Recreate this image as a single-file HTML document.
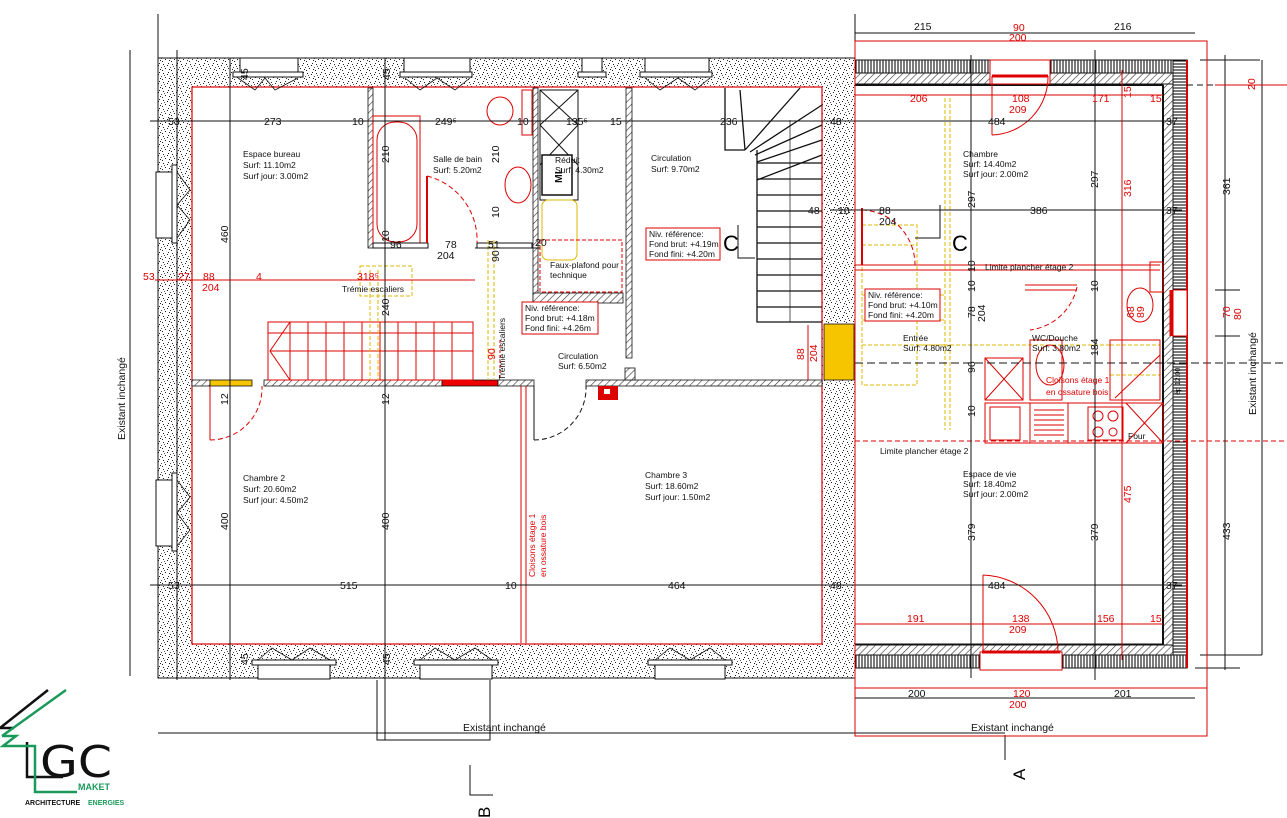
<!DOCTYPE html>
<html><head><meta charset="utf-8"><style>
html,body{margin:0;padding:0;background:#fff;}
svg{display:block;font-family:"Liberation Sans",sans-serif;}
.t{font-size:8.5px;fill:#111}
.d{font-size:10.5px;fill:#111}
.r{font-size:10.5px;fill:#d00}
.rs{font-size:8.5px;fill:#d00}
</style></head><body>
<svg width="1287" height="818" viewBox="0 0 1287 818" xmlns="http://www.w3.org/2000/svg">
<defs>
<pattern id="st" width="9" height="9" patternUnits="userSpaceOnUse">
<rect width="9" height="9" fill="#fff"/>
<rect x="1" y="1" width="1" height="1" fill="#222"/><rect x="5" y="2" width="1" height="1" fill="#222"/>
<rect x="3" y="5" width="1" height="1" fill="#222"/><rect x="7" y="6" width="1" height="1" fill="#222"/>
<rect x="0" y="7" width="1" height="1" fill="#222"/><rect x="6" y="0" width="1" height="1" fill="#222"/>
<rect x="2" y="3" width="1" height="1" fill="#555"/><rect x="8" y="4" width="1" height="1" fill="#555"/>
</pattern>
<pattern id="hb" width="5" height="5" patternUnits="userSpaceOnUse" patternTransform="rotate(45)">
<rect width="5" height="5" fill="#fff"/><line x1="0" y1="0" x2="0" y2="5" stroke="#333" stroke-width="1.2"/></pattern>
<pattern id="vl" width="3" height="3" patternUnits="userSpaceOnUse">
<rect width="3" height="3" fill="#fff"/><line x1="1" y1="0" x2="1" y2="3" stroke="#111" stroke-width="1.1"/></pattern>
<pattern id="hl" width="3" height="3" patternUnits="userSpaceOnUse">
<rect width="3" height="3" fill="#fff"/><line x1="0" y1="1" x2="3" y2="1" stroke="#111" stroke-width="1.1"/></pattern>
</defs>

<path d="M158 58 H855 V678 H158 Z M192 87 V644 H822 V87 Z" fill="url(#st)" fill-rule="evenodd" stroke="#111" stroke-width="1"/>
<rect x="192" y="87" width="630" height="557" fill="none" stroke="#d00" stroke-width="1.2"/>

<g stroke="#111" fill="#fff" stroke-width="1">
<rect x="240" y="58" width="58" height="14"/><rect x="233" y="72" width="70" height="5"/>
<rect x="404" y="58" width="66" height="14"/><rect x="400" y="72" width="72" height="5"/>
<rect x="582" y="58" width="20" height="14"/><rect x="578" y="72" width="28" height="5"/>
<rect x="645" y="58" width="64" height="14"/><rect x="640" y="72" width="72" height="5"/>
<rect x="258" y="665" width="72" height="14"/><rect x="252" y="660" width="84" height="5"/>
<rect x="420" y="665" width="72" height="14"/><rect x="414" y="660" width="84" height="5"/>
<rect x="655" y="665" width="70" height="14"/><rect x="648" y="660" width="84" height="5"/>
<rect x="156" y="172" width="16" height="66"/><rect x="172" y="165" width="5" height="78"/>
<rect x="156" y="480" width="16" height="66"/><rect x="172" y="473" width="5" height="78"/>
</g>
<g stroke="#111" fill="none" stroke-width="0.8">
<path d="M238 78 L255 90 L265 78 L275 90 L298 78"/><path d="M405 78 L420 90 L437 78 L455 90 L470 78"/><path d="M645 78 L660 90 L678 78 L695 90 L710 78"/>
<path d="M258 660 L272 648 L292 660 L310 648 L330 660"/><path d="M420 660 L435 648 L455 660 L475 648 L492 660"/><path d="M655 660 L670 648 L690 660 L710 648 L725 660"/>
<path d="M177 172 L190 190 L177 205 L190 220 L177 238"/><path d="M177 480 L190 497 L177 513 L190 530 L177 546"/>
</g>

<rect x="855" y="60" width="332" height="13" fill="url(#vl)" stroke="#111"/>
<rect x="855" y="73" width="318" height="11" fill="url(#hb)" stroke="#111"/>
<rect x="1173" y="60" width="14" height="608" fill="url(#hl)" stroke="#111"/>
<rect x="1163" y="84" width="10" height="561" fill="url(#hb)" stroke="#111"/>
<rect x="855" y="655" width="332" height="13" fill="url(#vl)" stroke="#111"/>
<rect x="855" y="645" width="318" height="10" fill="url(#hb)" stroke="#111"/>
<line x1="855" y1="85" x2="1163" y2="85" stroke="#111" stroke-width="2"/>
<line x1="1163" y1="85" x2="1163" y2="645" stroke="#111" stroke-width="2"/>
<line x1="855" y1="644" x2="1163" y2="644" stroke="#111" stroke-width="1"/>
<line x1="1187" y1="60" x2="1187" y2="668" stroke="#d00" stroke-width="2"/>
<rect x="990" y="60" width="60" height="24" fill="#fff" stroke="#d00"/>
<line x1="992" y1="76" x2="1048" y2="76" stroke="#d00" stroke-width="3"/>
<path d="M992 135 A58 58 0 0 0 1048 76" fill="none" stroke="#d00"/><line x1="992" y1="76" x2="992" y2="135" stroke="#d00"/>
<rect x="980" y="652" width="82" height="18" fill="#fff" stroke="#d00"/>
<line x1="982" y1="652" x2="1060" y2="652" stroke="#d00" stroke-width="3"/>
<path d="M983 575 A78 78 0 0 1 1058 652" fill="none" stroke="#d00"/><line x1="983" y1="575" x2="983" y2="652" stroke="#d00"/>
<rect x="1173" y="290" width="14" height="46" fill="#fff" stroke="#d00"/>
<line x1="1171" y1="290" x2="1171" y2="336" stroke="#d00" stroke-width="3"/>

<rect x="824" y="324" width="30" height="56" fill="#f7c400" stroke="#111" stroke-width="0.8"/>

<g stroke="#111" stroke-width="0.8">
<rect x="192" y="380" width="18" height="6" fill="url(#hb)"/>
<rect x="210" y="380" width="42" height="6" fill="#f7c400"/>
<rect x="264" y="380" width="178" height="6" fill="url(#hb)"/>
<rect x="442" y="380" width="56" height="6" fill="#e00"/>
<rect x="498" y="380" width="36" height="6" fill="url(#hb)"/>
<rect x="586" y="380" width="236" height="6" fill="url(#hb)"/>
<rect x="368" y="88" width="5" height="160" fill="url(#hb)"/>
<rect x="533" y="88" width="5" height="245" fill="url(#hb)"/>
<rect x="626" y="88" width="6" height="270" fill="url(#hb)"/>
<rect x="533" y="293" width="90" height="10" fill="url(#hb)"/>
<rect x="625" y="368" width="10" height="12" fill="url(#hb)"/>
</g>
<rect x="598" y="386" width="20" height="14" fill="#d00"/><rect x="604" y="389" width="6" height="5" fill="#fff"/>
<line x1="521" y1="386" x2="521" y2="643" stroke="#d00"/><line x1="526" y1="386" x2="526" y2="643" stroke="#d00"/>
<line x1="534" y1="386" x2="534" y2="440" stroke="#111"/>
<path d="M534 440 A52 52 0 0 0 586 386" fill="none" stroke="#111" stroke-dasharray="5 3"/>
<line x1="210" y1="386" x2="210" y2="440" stroke="#d00"/>
<path d="M210 440 A52 52 0 0 0 262 386" fill="none" stroke="#d00" stroke-dasharray="5 3"/>

<rect x="373" y="116" width="47" height="130" fill="none" stroke="#d00"/>
<rect x="377" y="122" width="40" height="120" rx="18" fill="none" stroke="#d00"/>
<rect x="373" y="243" width="55" height="5" fill="#fff" stroke="#111"/>
<rect x="477" y="243" width="55" height="5" fill="#fff" stroke="#111"/>
<line x1="427" y1="176" x2="427" y2="243" stroke="#d00" stroke-width="2"/>
<path d="M427 176 A66 66 0 0 1 477 243" fill="none" stroke="#d00" stroke-dasharray="5 3"/>
<ellipse cx="500" cy="111" rx="13" ry="14" fill="none" stroke="#d00"/>
<rect x="522" y="90" width="10" height="45" fill="none" stroke="#d00"/>
<ellipse cx="518" cy="185" rx="13" ry="18" fill="none" stroke="#d00"/>
<rect x="540" y="90" width="38" height="110" fill="none" stroke="#111"/>
<path d="M540 90 L578 125 M578 90 L540 125 M540 125 L578 165 M578 125 L540 165" stroke="#111"/>
<rect x="542" y="155" width="30" height="40" fill="#fff" stroke="#111" stroke-width="1.5"/>
<text x="-183" y="562" class="d" transform="rotate(-90)" font-weight="bold">ML</text>
<rect x="542" y="200" width="35" height="60" rx="6" fill="none" stroke="#e0b800"/>
<rect x="540" y="240" width="82" height="52" fill="none" stroke="#d00" stroke-dasharray="4 2"/>

<g stroke="#111" fill="none" stroke-width="1.3">
<path d="M725 88 V150 H745 M757 150 V322 H822"/>
<line x1="757" y1="163" x2="822" y2="163"/><line x1="757" y1="179" x2="822" y2="179"/><line x1="757" y1="195" x2="822" y2="195"/>
<line x1="757" y1="211" x2="822" y2="211"/><line x1="757" y1="227" x2="822" y2="227"/><line x1="757" y1="243" x2="822" y2="243"/>
<line x1="757" y1="259" x2="822" y2="259"/><line x1="757" y1="275" x2="822" y2="275"/><line x1="757" y1="291" x2="822" y2="291"/>
<line x1="757" y1="307" x2="822" y2="307"/>
<path d="M745 150 L800 88 M750 152 L822 105 M755 155 L822 125 M757 162 L822 140 M757 180 L822 155 M740 90 L745 150"/>
<line x1="790" y1="120" x2="790" y2="322" stroke-width="0.7"/>
</g>
<g stroke="#d00" fill="none" stroke-width="1">
<rect x="268" y="322" width="205" height="58"/>
<line x1="268" y1="333" x2="473" y2="333"/>
<line x1="290" y1="322" x2="290" y2="380"/><line x1="308" y1="322" x2="308" y2="380"/><line x1="326" y1="322" x2="326" y2="380"/>
<line x1="344" y1="322" x2="344" y2="380"/><line x1="362" y1="322" x2="362" y2="380"/><line x1="380" y1="322" x2="380" y2="380"/>
<line x1="398" y1="322" x2="398" y2="380"/><line x1="416" y1="322" x2="416" y2="380"/><line x1="434" y1="322" x2="434" y2="380"/><line x1="452" y1="322" x2="452" y2="380"/>
<path d="M290 322 L270 351 L290 380"/><line x1="270" y1="351" x2="473" y2="351"/>
</g>
<rect x="360" y="266" width="52" height="30" fill="none" stroke="#e0b800" stroke-dasharray="4 2"/>
<path d="M370 270 V380 M378 270 V380 M488 240 V380 M494 240 V380" stroke="#e0b800" stroke-dasharray="4 2"/>

<g stroke="#e0b800" fill="none" stroke-dasharray="4 2">
<path d="M945 98 V430 M950 98 V430"/>
<rect x="862" y="225" width="55" height="160"/><path d="M862 245 H917 M862 265 H917 M862 295 H945 M862 320 H945 M862 345 H945"/>
<rect x="1110" y="345" width="50" height="30"/>
<path d="M920 345 H1110"/>
</g>
<line x1="862" y1="208" x2="862" y2="265" stroke="#d00" stroke-width="2"/>
<path d="M862 210 A55 55 0 0 1 915 265" fill="none" stroke="#d00" stroke-dasharray="5 3"/>
<path d="M855 265 H1160 M855 270 H1160" stroke="#d00"/>
<path d="M940 205 V238 H915" stroke="#111" fill="none"/>
<path d="M1025 285 H1077 M1025 290 H1077" stroke="#d00"/>
<path d="M1077 287 A55 55 0 0 1 1030 330" fill="none" stroke="#d00" stroke-dasharray="5 3"/>
<ellipse cx="1140" cy="305" rx="13" ry="17" fill="none" stroke="#d00"/>
<rect x="1150" y="262" width="13" height="30" fill="none" stroke="#d00"/>
<g stroke="#d00" fill="none">
<rect x="985" y="358" width="38" height="42"/><path d="M985 358 L1023 400 M1023 358 L985 400"/>
<rect x="1030" y="340" width="32" height="60"/><ellipse cx="1050" cy="365" rx="14" ry="20"/>
<rect x="1110" y="340" width="50" height="60"/><path d="M1115 398 L1160 355"/>
<rect x="985" y="403" width="178" height="40"/>
<rect x="990" y="407" width="30" height="33"/><line x1="1030" y1="403" x2="1030" y2="443"/><line x1="1068" y1="403" x2="1068" y2="443"/>
<path d="M1034 410 H1064 M1034 415 H1064 M1034 420 H1064 M1034 425 H1064 M1034 430 H1064 M1034 435 H1064"/>
<rect x="1088" y="407" width="35" height="33"/><circle cx="1098" cy="416" r="5"/><circle cx="1113" cy="416" r="5"/><circle cx="1098" cy="432" r="5"/><circle cx="1113" cy="432" r="4"/>
<path d="M1126 403 L1163 443 M1163 403 L1126 443"/>
</g>
<line x1="855" y1="441" x2="1287" y2="441" stroke="#d00" stroke-dasharray="5 3"/>
<line x1="855" y1="363" x2="1287" y2="363" stroke="#111" stroke-dasharray="8 4"/>
<line x1="1187" y1="85" x2="1287" y2="85" stroke="#111" stroke-dasharray="6 4"/>

<g stroke="#111" stroke-width="1" fill="none">
<line x1="150" y1="121" x2="1182" y2="121"/>
<line x1="150" y1="585" x2="1182" y2="585"/>
<line x1="855" y1="210" x2="1182" y2="210"/>
<line x1="855" y1="33" x2="1195" y2="33"/>
<line x1="158" y1="733" x2="1005" y2="733"/>
<line x1="855" y1="698" x2="1195" y2="698"/>
<line x1="130" y1="50" x2="130" y2="676"/>
<line x1="158" y1="14" x2="158" y2="58"/>
<line x1="855" y1="14" x2="855" y2="700"/>
<line x1="177" y1="50" x2="177" y2="680"/>
<line x1="230" y1="58" x2="230" y2="680"/>
<line x1="385" y1="58" x2="385" y2="740"/>
<line x1="971" y1="55" x2="971" y2="678"/>
<line x1="1095" y1="50" x2="1095" y2="680"/>
<line x1="1225" y1="55" x2="1225" y2="670"/>
<line x1="1262" y1="60" x2="1262" y2="655"/>
<line x1="1200" y1="60" x2="1260" y2="60"/><line x1="1200" y1="655" x2="1262" y2="655"/>
<line x1="1215" y1="290" x2="1240" y2="290"/><line x1="1215" y1="336" x2="1240" y2="336"/>
<line x1="1195" y1="668" x2="1240" y2="668"/>
<line x1="475" y1="248" x2="540" y2="248"/>
<path d="M377 680 V740 H490 V680"/>
<path d="M470 765 V795 H493"/><path d="M1005 735 V760"/>
<line x1="830" y1="210" x2="855" y2="210"/>
</g>
<g stroke="#d00" fill="none">
<rect x="855" y="41" width="352" height="695"/>
<line x1="855" y1="95" x2="1163" y2="95"/>
<line x1="855" y1="624" x2="1163" y2="624"/>
<line x1="855" y1="688" x2="1207" y2="688"/>
<line x1="1122" y1="70" x2="1122" y2="660"/>
<line x1="1215" y1="85" x2="1287" y2="85"/>
<line x1="155" y1="280" x2="475" y2="280"/>
<line x1="808" y1="325" x2="808" y2="380"/>
<line x1="500" y1="340" x2="500" y2="380" stroke-dasharray="3 2"/>
</g>

<g class="t">
<text x="243" y="157">Espace bureau</text><text x="243" y="168">Surf: 11.10m2</text><text x="243" y="179">Surf jour: 3.00m2</text>
<text x="433" y="162">Salle de bain</text><text x="433" y="173">Surf: 5.20m2</text>
<text x="555" y="163">Réduit</text><text x="555" y="173">Surf: 4.30m2</text>
<text x="651" y="161">Circulation</text><text x="651" y="172">Surf: 9.70m2</text>
<text x="550" y="268">Faux-plafond pour</text><text x="550" y="278">technique</text>
<text x="342" y="292">Trémie escaliers</text>
<text x="558" y="359">Circulation</text><text x="558" y="369">Surf: 6.50m2</text>
<text x="243" y="481">Chambre 2</text><text x="243" y="492">Surf: 20.60m2</text><text x="243" y="503">Surf jour: 4.50m2</text>
<text x="645" y="478">Chambre 3</text><text x="645" y="489">Surf: 18.60m2</text><text x="645" y="500">Surf jour: 1.50m2</text>
<text x="963" y="157">Chambre</text><text x="963" y="167">Surf: 14.40m2</text><text x="963" y="177">Surf jour: 2.00m2</text>
<text x="985" y="270">Limite plancher étage 2</text>
<text x="903" y="341">Entrée</text><text x="903" y="351">Surf: 4.80m2</text>
<text x="1032" y="341">WC/Douche</text><text x="1032" y="351">Surf: 3.80m2</text>
<text x="880" y="454">Limite plancher étage 2</text>
<text x="963" y="477">Espace de vie</text><text x="963" y="487">Surf: 18.40m2</text><text x="963" y="497">Surf jour: 2.00m2</text>
<text x="1128" y="439">Four</text>
</g>
<g class="rs"><text x="1046" y="383">Cloisons étage 1</text><text x="1046" y="395">en ossature bois</text></g>
<text class="rs" transform="translate(535,577) rotate(-90)">Cloisons étage 1</text>
<text class="rs" transform="translate(546,577) rotate(-90)">en ossature bois</text>
<text class="t" transform="translate(505,380) rotate(-90)">Trémie escaliers</text>
<g stroke="#d00" fill="#fff"><rect x="646" y="228" width="74" height="32"/><rect x="522" y="302" width="76" height="32"/><rect x="865" y="289" width="75" height="32"/></g>
<g class="t">
<text x="649" y="237">Niv. référence:</text><text x="649" y="247">Fond brut: +4.19m</text><text x="649" y="257">Fond fini: +4.20m</text>
<text x="525" y="311">Niv. référence:</text><text x="525" y="321">Fond brut: +4.18m</text><text x="525" y="331">Fond fini: +4.26m</text>
<text x="868" y="298">Niv. référence:</text><text x="868" y="308">Fond brut: +4.10m</text><text x="868" y="318">Fond fini: +4.20m</text>
</g>
<text x="723" y="251" style="font-size:22px">C</text>
<text x="952" y="251" style="font-size:22px">C</text>
<path d="M738 225 V258 H755" stroke="#111" fill="none"/>

<g class="d">
<text x="168" y="125">53</text><text x="264" y="125">273</text><text x="352" y="125">10</text><text x="435" y="125">249⁵</text>
<text x="517" y="125">10</text><text x="566" y="125">135⁵</text><text x="610" y="125">15</text><text x="720" y="125">236</text><text x="830" y="125">48</text>
<text x="988" y="125">484</text><text x="1166" y="125">37</text>
<text x="168" y="589">53</text><text x="340" y="589">515</text><text x="505" y="589">10</text><text x="668" y="589">464</text><text x="830" y="589">48</text>
<text x="988" y="589">484</text><text x="1166" y="589">37</text>
<text x="1030" y="214">386</text><text x="1166" y="214">37</text><text x="879" y="214">88</text><text x="808" y="214">48</text><text x="838" y="214">10</text>
<text x="879" y="225">204</text>
<text x="914" y="30">215</text><text x="1114" y="30">216</text>
<text x="908" y="697">200</text><text x="1114" y="697">201</text>
<text x="390" y="248">96</text><text x="445" y="248">78</text><text x="488" y="248">51</text><text x="437" y="259">204</text><text x="535" y="246">20</text>
<text x="463" y="731">Existant inchangé</text><text x="971" y="731">Existant inchangé</text>
</g>
<g class="d">
<text transform="translate(228,243) rotate(-90)">460</text>
<text transform="translate(228,530) rotate(-90)">400</text>
<text transform="translate(389,530) rotate(-90)">400</text>
<text transform="translate(389,163) rotate(-90)">210</text>
<text transform="translate(499,163) rotate(-90)">210</text>
<text transform="translate(389,316) rotate(-90)">240</text>
<text transform="translate(389,242) rotate(-90)">10</text><text transform="translate(499,218) rotate(-90)">10</text><text transform="translate(499,262) rotate(-90)">90</text>
<text transform="translate(228,405) rotate(-90)">12</text><text transform="translate(389,405) rotate(-90)">12</text>
<text transform="translate(248,80) rotate(-90)">45</text><text transform="translate(390,80) rotate(-90)">45</text>
<text transform="translate(248,665) rotate(-90)">45</text><text transform="translate(390,665) rotate(-90)">45</text>
<text transform="translate(975,208) rotate(-90)">297</text><text transform="translate(1098,188) rotate(-90)">297</text>
<text transform="translate(975,272) rotate(-90)">10</text><text transform="translate(975,292) rotate(-90)">10</text><text transform="translate(1098,292) rotate(-90)">10</text>
<text transform="translate(975,318) rotate(-90)">78</text><text transform="translate(985,322) rotate(-90)">204</text>
<text transform="translate(975,373) rotate(-90)">96</text><text transform="translate(1098,356) rotate(-90)">184</text>
<text transform="translate(975,417) rotate(-90)">10</text>
<text transform="translate(975,541) rotate(-90)">379</text><text transform="translate(1098,541) rotate(-90)">379</text>
<text transform="translate(1230,195) rotate(-90)">361</text><text transform="translate(1230,540) rotate(-90)">433</text>
<text transform="translate(125,440) rotate(-90)">Existant inchangé</text>
<text transform="translate(1256,415) rotate(-90)">Existant inchangé</text>
<text transform="translate(1180,395) rotate(-90)" style="font-size:7px">ép 12.00</text>
</g>
<g class="r">
<text x="1013" y="31">90</text><text x="1009" y="41">200</text>
<text x="910" y="102">206</text><text x="1012" y="102">108</text><text x="1009" y="113">209</text><text x="1092" y="102">171</text><text x="1150" y="102">15</text>
<text x="907" y="622">191</text><text x="1012" y="622">138</text><text x="1009" y="633">209</text><text x="1097" y="622">156</text><text x="1150" y="622">15</text>
<text x="1013" y="697">120</text><text x="1009" y="708">200</text>
<text x="143" y="280">53</text><text x="178" y="280">27</text><text x="203" y="280">88</text><text x="256" y="280">4</text><text x="202" y="291">204</text><text x="357" y="280">318⁵</text>
</g>
<g class="r">
<text transform="translate(1131,197) rotate(-90)">316</text>
<text transform="translate(1131,503) rotate(-90)">475</text>
<text transform="translate(1131,98) rotate(-90)">15</text>
<text transform="translate(1230,318) rotate(-90)">70</text><text transform="translate(1241,320) rotate(-90)">80</text>
<text transform="translate(1255,90) rotate(-90)">20</text>
<text transform="translate(804,360) rotate(-90)">88</text><text transform="translate(817,362) rotate(-90)">204</text>
<text transform="translate(495,360) rotate(-90)">90</text>
<text transform="translate(1134,318) rotate(-90)">68</text><text transform="translate(1144,318) rotate(-90)">89</text>
</g>
<text transform="translate(1025,780) rotate(-90)" style="font-size:17px">A</text>
<text transform="translate(490,818) rotate(-90)" style="font-size:17px">B</text>

<!-- logo -->
<g fill="none" stroke-width="2.5">
<path d="M0 728 L48 690 M0 728 H14" stroke="#111"/>
<path d="M27 742 V777 H63" stroke="#111"/>
<path d="M2 736 L66 690 M2 736 H16 L3 746 H35 V792 H77" stroke="#1a9a5a"/>
</g>
<text x="40" y="777" style="font-size:44px;fill:#111;font-family:'DejaVu Sans',sans-serif" textLength="72" lengthAdjust="spacingAndGlyphs">GC</text>
<text x="78" y="790" style="font-size:9px;font-weight:bold;fill:#1a9a5a">MAKET</text>
<text x="25" y="805" style="font-size:7px;font-weight:bold;fill:#111">ARCHITECTURE</text>
<text x="88" y="805" style="font-size:7px;font-weight:bold;fill:#1a9a5a">ENERGIES</text>
</svg>
</body></html>
